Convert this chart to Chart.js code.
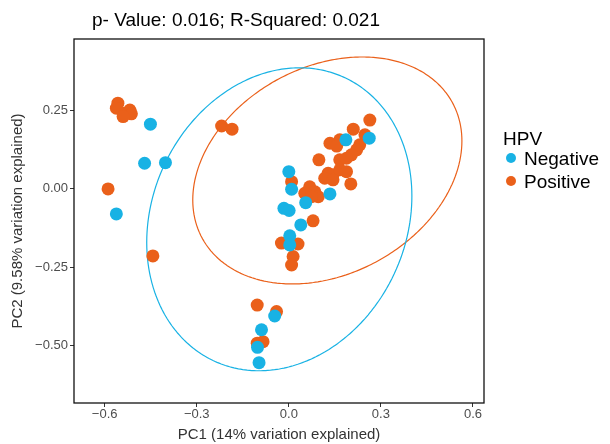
<!DOCTYPE html>
<html>
<head>
<meta charset="utf-8">
<script src="https://cdn.jsdelivr.net/npm/chart.js@4.4.1/dist/chart.umd.min.js"></script>
<style>
  html, body { margin: 0; padding: 0; background: #fff; }
</style>
</head>
<body>
<canvas id="pcoa" width="610" height="444"></canvas>
<script>
// PC1 / PC2 scores per sample
var negX = [-0.451, -0.470, -0.402, -0.562, 0.262, 0.186, 0.000, 0.009, 0.055, 0.134,
            -0.016, 0.001, 0.039, 0.003, 0.003, -0.046, -0.089, -0.102, -0.097];
var negY = [0.207, 0.082, 0.084, -0.080, 0.162, 0.157, 0.055, -0.001, -0.044, -0.016,
            -0.062, -0.069, -0.115, -0.150, -0.179, -0.406, -0.450, -0.506, -0.555];

var posX = [-0.557, -0.562, -0.535, -0.518, -0.513, -0.540, -0.219, -0.185, -0.589, -0.443,
            0.264, 0.210, 0.248, 0.134, 0.166, 0.156, 0.231, 0.221, 0.204, 0.166,
            0.188, 0.098, 0.128, 0.144, 0.166, 0.188, 0.117, 0.144, 0.202, 0.009,
            0.068, 0.085, 0.052, 0.096, 0.074, 0.079, -0.024, 0.030, 0.014, 0.009,
            -0.103, -0.040, -0.084, -0.103];
var posY = [0.274, 0.258, 0.242, 0.252, 0.240, 0.231, 0.201, 0.191, 0.000, -0.214,
            0.220, 0.191, 0.173, 0.146, 0.157, 0.137, 0.141, 0.125, 0.109, 0.093,
            0.098, 0.093, 0.050, 0.045, 0.061, 0.055, 0.034, 0.029, 0.016, 0.023,
            0.007, -0.009, -0.014, -0.025, -0.025, -0.102, -0.173, -0.176, -0.216, -0.243,
            -0.371, -0.392, -0.488, -0.493];

// 95% ellipses: centre, spread along each axis, correlation
var ellipseNeg = { cx: -0.031, cy: -0.097, sx: 0.432, sy: 0.484, rho: 0.153 };
var ellipsePos = { cx: 0.1255, cy: 0.059, sx: 0.4385, sy: 0.3626, rho: 0.26 };

var xTickVals = [-0.6, -0.3, 0, 0.3, 0.6];
var xTickLabels = ['\u22120.6', '\u22120.3', '0.0', '0.3', '0.6'];
var yTickVals = [-0.5, -0.25, 0, 0.25];
var yTickLabels = ['\u22120.50', '\u22120.25', '0.00', '0.25'];

var groupNames = ['Negative', 'Positive'];
var titleText = 'p- Value: 0.016; R-Squared: 0.021';

var BLUE = 'rgb(24,178,228)';
var ORANGE = 'rgb(234,96,26)';
var FONT = '"Liberation Sans", Arial, Helvetica, sans-serif';

function pts(xs, ys) {
  return xs.map(function (x, i) { return { x: x, y: ys[i] }; });
}

function ellipsePath(e) {
  var out = [];
  var k = Math.sqrt(1 - e.rho * e.rho);
  for (var i = 0; i <= 180; i++) {
    var t = i / 180 * Math.PI * 2;
    out.push({
      x: e.cx + e.sx * Math.cos(t),
      y: e.cy + e.sy * (e.rho * Math.cos(t) + k * Math.sin(t))
    });
  }
  return out;
}

// panel box, title and legend
var decor = {
  id: 'decor',
  afterDraw: function (chart) {
    var ctx = chart.ctx, a = chart.chartArea;
    ctx.save();
    ctx.strokeStyle = '#111';
    ctx.lineWidth = 1.3;
    ctx.strokeRect(a.left, a.top, a.right - a.left, a.bottom - a.top);

    ctx.fillStyle = '#000';
    ctx.textBaseline = 'alphabetic';
    ctx.textAlign = 'left';
    ctx.font = '19px ' + FONT;
    ctx.fillText(titleText, 92, 26);

    ctx.fillText('HPV', 503, 145);
    var cols = [BLUE, ORANGE];
    for (var i = 0; i < groupNames.length; i++) {
      var y = 158 + i * 23;
      ctx.fillStyle = cols[i];
      ctx.beginPath();
      ctx.arc(511, y, 5, 0, Math.PI * 2);
      ctx.fill();
      ctx.fillStyle = '#000';
      ctx.fillText(groupNames[i], 524, y + 7);
    }
    ctx.restore();
  }
};

var ctx = document.getElementById('pcoa').getContext('2d');
var myChart = new Chart(ctx, {
  type: 'scatter',
  data: {
    datasets: [
      { label: groupNames[0], data: pts(negX, negY), backgroundColor: BLUE,
        pointRadius: 6.5, pointHoverRadius: 6.5, borderWidth: 0, order: 1 },
      { label: groupNames[1], data: pts(posX, posY), backgroundColor: ORANGE,
        pointRadius: 6.5, pointHoverRadius: 6.5, borderWidth: 0, order: 2 },
      // small tension keeps the line off the fast path, which breaks closed curves
      { label: 'ellipse ' + groupNames[0], data: ellipsePath(ellipseNeg), showLine: true, tension: 0.1,
        pointRadius: 0, borderColor: BLUE, borderWidth: 1.2, fill: false, order: 3 },
      { label: 'ellipse ' + groupNames[1], data: ellipsePath(ellipsePos), showLine: true, tension: 0.1,
        pointRadius: 0, borderColor: ORANGE, borderWidth: 1.2, fill: false, order: 3 }
    ]
  },
  options: {
    responsive: false,
    animation: false,
    layout: { padding: { left: 0, right: 126, top: 39, bottom: 0 } },
    plugins: {
      legend: { display: false },
      tooltip: { enabled: false }
    },
    scales: {
      x: {
        type: 'linear',
        min: -0.70,
        max: 0.636,
        afterFit: function (s) { s.height = 41; },
        afterBuildTicks: function (s) { s.ticks = xTickVals.map(function (v) { return { value: v }; }); },
        grid: { drawOnChartArea: false, drawTicks: true, tickLength: 4, color: '#333' },
        border: { display: false },
        ticks: {
          autoSkip: false, maxRotation: 0, padding: 0, color: '#4d4d4d',
          font: { family: FONT, size: 13 },
          callback: function (v, i) { return xTickLabels[i]; }
        },
        title: {
          display: true, text: 'PC1 (14% variation explained)', color: '#333',
          font: { family: FONT, size: 15 }, padding: { top: 0, bottom: 0 }
        }
      },
      y: {
        type: 'linear',
        min: -0.684,
        max: 0.479,
        afterFit: function (s) { s.width = 74; },
        afterBuildTicks: function (s) { s.ticks = yTickVals.map(function (v) { return { value: v }; }); },
        grid: { drawOnChartArea: false, drawTicks: true, tickLength: 4, color: '#333' },
        border: { display: false },
        ticks: {
          autoSkip: false, padding: 2, color: '#4d4d4d',
          font: { family: FONT, size: 13 },
          callback: function (v, i) { return yTickLabels[i]; }
        },
        title: {
          display: true, text: 'PC2 (9.58% variation explained)', color: '#333',
          font: { family: FONT, size: 15 }, padding: { top: 9, bottom: 0 }
        }
      }
    }
  },
  plugins: [decor]
});
</script>
</body>
</html>
